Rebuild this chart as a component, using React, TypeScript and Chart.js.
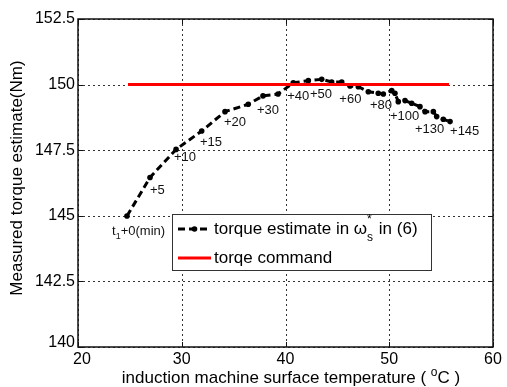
import React, { useEffect, useRef } from 'react';
import { Chart, registerables } from 'chart.js';

Chart.register(...registerables);

// ---- data ----
const temperature = [24.72, 26.94, 29.45, 31.92, 34.17, 36.41, 37.83, 39.28, 40.75, 42.2, 43.49, 44.45, 45.42, 46.22, 47.02, 47.98, 48.94, 49.43, 50.24, 50.55, 50.87, 51.52, 52.16, 52.96, 53.45, 54.25, 54.57, 55.21, 55.86];
const torqueEstimate = [144.99, 146.46, 147.53, 148.23, 148.97, 149.25, 149.57, 149.64, 150.07, 150.15, 150.2, 150.1, 150.1, 149.95, 149.92, 149.73, 149.67, 149.64, 149.77, 149.67, 149.35, 149.39, 149.29, 149.16, 148.97, 148.97, 148.78, 148.68, 148.59];
const commandTemperature = [24.82, 55.76];
const commandTorque = [150, 150];

const xTicks = [20, 30, 40, 50, 60];
const yTicks = [140, 142.5, 145, 147.5, 150, 152.5];

const timeLabels = ['+0(min)', '+5', '+10', '+15', '+20', '+30', '+40', '+50', '+60', '+80', '+100', '+130', '+145'];
const timeLabelTemp = [23.28, 26.94, 29.25, 31.76, 34.07, 37.25, 40.17, 42.36, 45.19, 48.14, 50.07, 52.48, 55.86];
const timeLabelTorque = [144.42, 145.98, 147.24, 147.81, 148.57, 149.0, 149.54, 149.64, 149.45, 149.22, 148.77, 148.31, 148.21];

const xTitle = 'induction machine surface temperature ( ';
const xTitleSup = 'o';
const xTitleEnd = 'C )';
const yTitle = 'Measured torque estimate(Nm)';
const legendEstimate = ['torque estimate in ', 'ω', '*', 's', ' in (6)'];
const legendCommand = 'torqe command';

const FONT = '"Liberation Sans", Arial, sans-serif';

const matlabPlugin = {
  id: 'matlabStyle',
  beforeDatasetsDraw(chart: any) {
    const { ctx, chartArea: a, scales } = chart;
    const x = scales.x, y = scales.y;
    ctx.save();
    ctx.strokeStyle = '#333';
    ctx.lineWidth = 1;
    ctx.setLineDash([2, 3]);
    ctx.beginPath();
    xTicks.forEach((v) => {
      const px = Math.round(x.getPixelForValue(v)) + 0.5;
      ctx.moveTo(px, a.top);
      ctx.lineTo(px, a.bottom);
    });
    yTicks.forEach((v) => {
      const py = Math.round(y.getPixelForValue(v)) + 0.5;
      ctx.moveTo(a.left, py);
      ctx.lineTo(a.right, py);
    });
    ctx.stroke();
    ctx.restore();
  },
  afterDatasetsDraw(chart: any) {
    const { ctx, chartArea: a, scales } = chart;
    const x = scales.x, y = scales.y;
    ctx.save();
    // frame
    ctx.setLineDash([]);
    ctx.strokeStyle = '#111';
    ctx.lineWidth = 1.5;
    ctx.strokeRect(a.left, a.top, a.right - a.left, a.bottom - a.top);
    // inner ticks
    ctx.lineWidth = 1;
    ctx.beginPath();
    xTicks.forEach((v) => {
      const px = Math.round(x.getPixelForValue(v)) + 0.5;
      ctx.moveTo(px, a.bottom);
      ctx.lineTo(px, a.bottom - 5);
      ctx.moveTo(px, a.top);
      ctx.lineTo(px, a.top + 5);
    });
    yTicks.forEach((v) => {
      const py = Math.round(y.getPixelForValue(v)) + 0.5;
      ctx.moveTo(a.left, py);
      ctx.lineTo(a.left + 5, py);
      ctx.moveTo(a.right, py);
      ctx.lineTo(a.right - 5, py);
    });
    ctx.stroke();

    // tick labels
    ctx.fillStyle = '#000';
    ctx.font = `16px ${FONT}`;
    ctx.textAlign = 'right';
    ctx.textBaseline = 'middle';
    yTicks.forEach((v, i) => {
      const py = y.getPixelForValue(v) + (i === 0 ? -4 : 0);
      ctx.fillText(String(v), a.left - 3, py);
    });
    ctx.textAlign = 'center';
    xTicks.forEach((v, i) => {
      const px = x.getPixelForValue(v) + (i === 0 ? 4 : 0);
      ctx.fillText(String(v), px, a.bottom + 13);
    });

    // x title with superscript
    ctx.textBaseline = 'alphabetic';
    ctx.textAlign = 'left';
    ctx.font = `17px ${FONT}`;
    const w1 = ctx.measureText(xTitle).width;
    ctx.font = `12px ${FONT}`;
    const w2 = ctx.measureText(xTitleSup).width;
    ctx.font = `17px ${FONT}`;
    const w3 = ctx.measureText(xTitleEnd).width;
    const total = w1 + w2 + w3;
    const cx = 291;
    let tx = cx - total / 2;
    const by = 383;
    ctx.fillText(xTitle, tx, by);
    tx += w1;
    ctx.font = `12px ${FONT}`;
    ctx.fillText(xTitleSup, tx, by - 7);
    tx += w2;
    ctx.font = `17px ${FONT}`;
    ctx.fillText(xTitleEnd, tx, by);

    // y title
    ctx.save();
    ctx.translate(17, 178);
    ctx.rotate(-Math.PI / 2);
    ctx.textAlign = 'center';
    ctx.textBaseline = 'middle';
    ctx.font = `17px ${FONT}`;
    ctx.fillText(yTitle, 0, 0);
    ctx.restore();

    // time annotations
    ctx.font = `13px ${FONT}`;
    ctx.textAlign = 'left';
    ctx.textBaseline = 'middle';
    ctx.fillStyle = '#111';
    timeLabels.forEach((t, i) => {
      let px = x.getPixelForValue(timeLabelTemp[i]);
      const py = y.getPixelForValue(timeLabelTorque[i]);
      if (i === 0) {
        ctx.font = `13px ${FONT}`;
        ctx.fillText('t', px, py);
        px += ctx.measureText('t').width;
        ctx.font = `9px ${FONT}`;
        ctx.fillText('1', px, py + 5);
        px += ctx.measureText('1').width;
        ctx.font = `13px ${FONT}`;
      }
      ctx.fillText(t, px, py);
    });

    // legend
    const lx = 172.5, ly = 214.5, lw = 259, lh = 56;
    ctx.fillStyle = '#fff';
    ctx.fillRect(lx, ly, lw, lh);
    ctx.strokeStyle = '#333';
    ctx.lineWidth = 1;
    ctx.strokeRect(lx, ly, lw, lh);
    const row1 = 229, row2 = 258;
    // sample 1
    ctx.strokeStyle = '#000';
    ctx.lineWidth = 3;
    ctx.setLineDash([7, 4]);
    ctx.beginPath();
    ctx.moveTo(178, row1);
    ctx.lineTo(211, row1);
    ctx.stroke();
    ctx.setLineDash([]);
    ctx.fillStyle = '#000';
    ctx.beginPath();
    ctx.arc(194.5, row1, 2.8, 0, Math.PI * 2);
    ctx.fill();
    // sample 2
    ctx.strokeStyle = '#ff0000';
    ctx.lineWidth = 3;
    ctx.beginPath();
    ctx.moveTo(178, row2);
    ctx.lineTo(211, row2);
    ctx.stroke();
    // legend texts
    ctx.fillStyle = '#000';
    ctx.textBaseline = 'middle';
    ctx.font = `17px ${FONT}`;
    let tx2 = 214;
    ctx.fillText(legendEstimate[0], tx2, row1);
    tx2 += ctx.measureText(legendEstimate[0]).width;
    ctx.fillText(legendEstimate[1], tx2, row1);
    const wOmega = ctx.measureText(legendEstimate[1]).width;
    ctx.font = `12px ${FONT}`;
    ctx.fillText(legendEstimate[2], tx2 + wOmega, row1 - 9);
    ctx.fillText(legendEstimate[3], tx2 + wOmega, row1 + 9);
    const wSub = ctx.measureText(legendEstimate[3]).width;
    tx2 += wOmega + wSub + 1;
    ctx.font = `17px ${FONT}`;
    ctx.fillText(legendEstimate[4], tx2, row1);
    ctx.fillText(legendCommand, 214, row2);

    ctx.restore();
  },
};

export default function App() {
  const ref = useRef<HTMLCanvasElement>(null);
  useEffect(() => {
    document.body.style.margin = '0';
    const canvas = ref.current!;
    const chart = new Chart(canvas, {
      type: 'line',
      data: {
        datasets: [
          {
            label: legendCommand,
            data: commandTemperature.map((t, i) => ({ x: t, y: commandTorque[i] })),
            borderColor: '#ff0000',
            borderWidth: 3,
            pointRadius: 0,
            fill: false,
          },
          {
            label: 'torque estimate',
            data: temperature.map((t, i) => ({ x: t, y: torqueEstimate[i] })),
            borderColor: '#000',
            borderWidth: 3,
            borderDash: [7, 4],
            pointRadius: 2.8,
            pointBackgroundColor: '#000',
            pointBorderColor: '#000',
            pointBorderWidth: 0,
            fill: false,
            tension: 0,
          },
        ],
      },
      options: {
        responsive: false,
        animation: false,
        devicePixelRatio: 1,
        layout: { padding: { left: 78, right: 14, top: 19, bottom: 40 } },
        plugins: { legend: { display: false }, tooltip: { enabled: false }, title: { display: false } },
        scales: {
          x: {
            type: 'linear',
            min: 20,
            max: 60,
            display: false,
            ticks: { stepSize: 10 },
            grid: { display: false },
          },
          y: {
            type: 'linear',
            min: 140,
            max: 152.5,
            display: false,
            ticks: { stepSize: 2.5 },
            grid: { display: false },
          },
        },
      },
      plugins: [matlabPlugin],
    });
    return () => chart.destroy();
  }, []);
  return (
    <div style={{ position: 'fixed', left: 0, top: 0, width: 507, height: 387, background: '#fff' }}>
      <canvas ref={ref} width={507} height={387} style={{ width: 507, height: 387 }} />
    </div>
  );
}
